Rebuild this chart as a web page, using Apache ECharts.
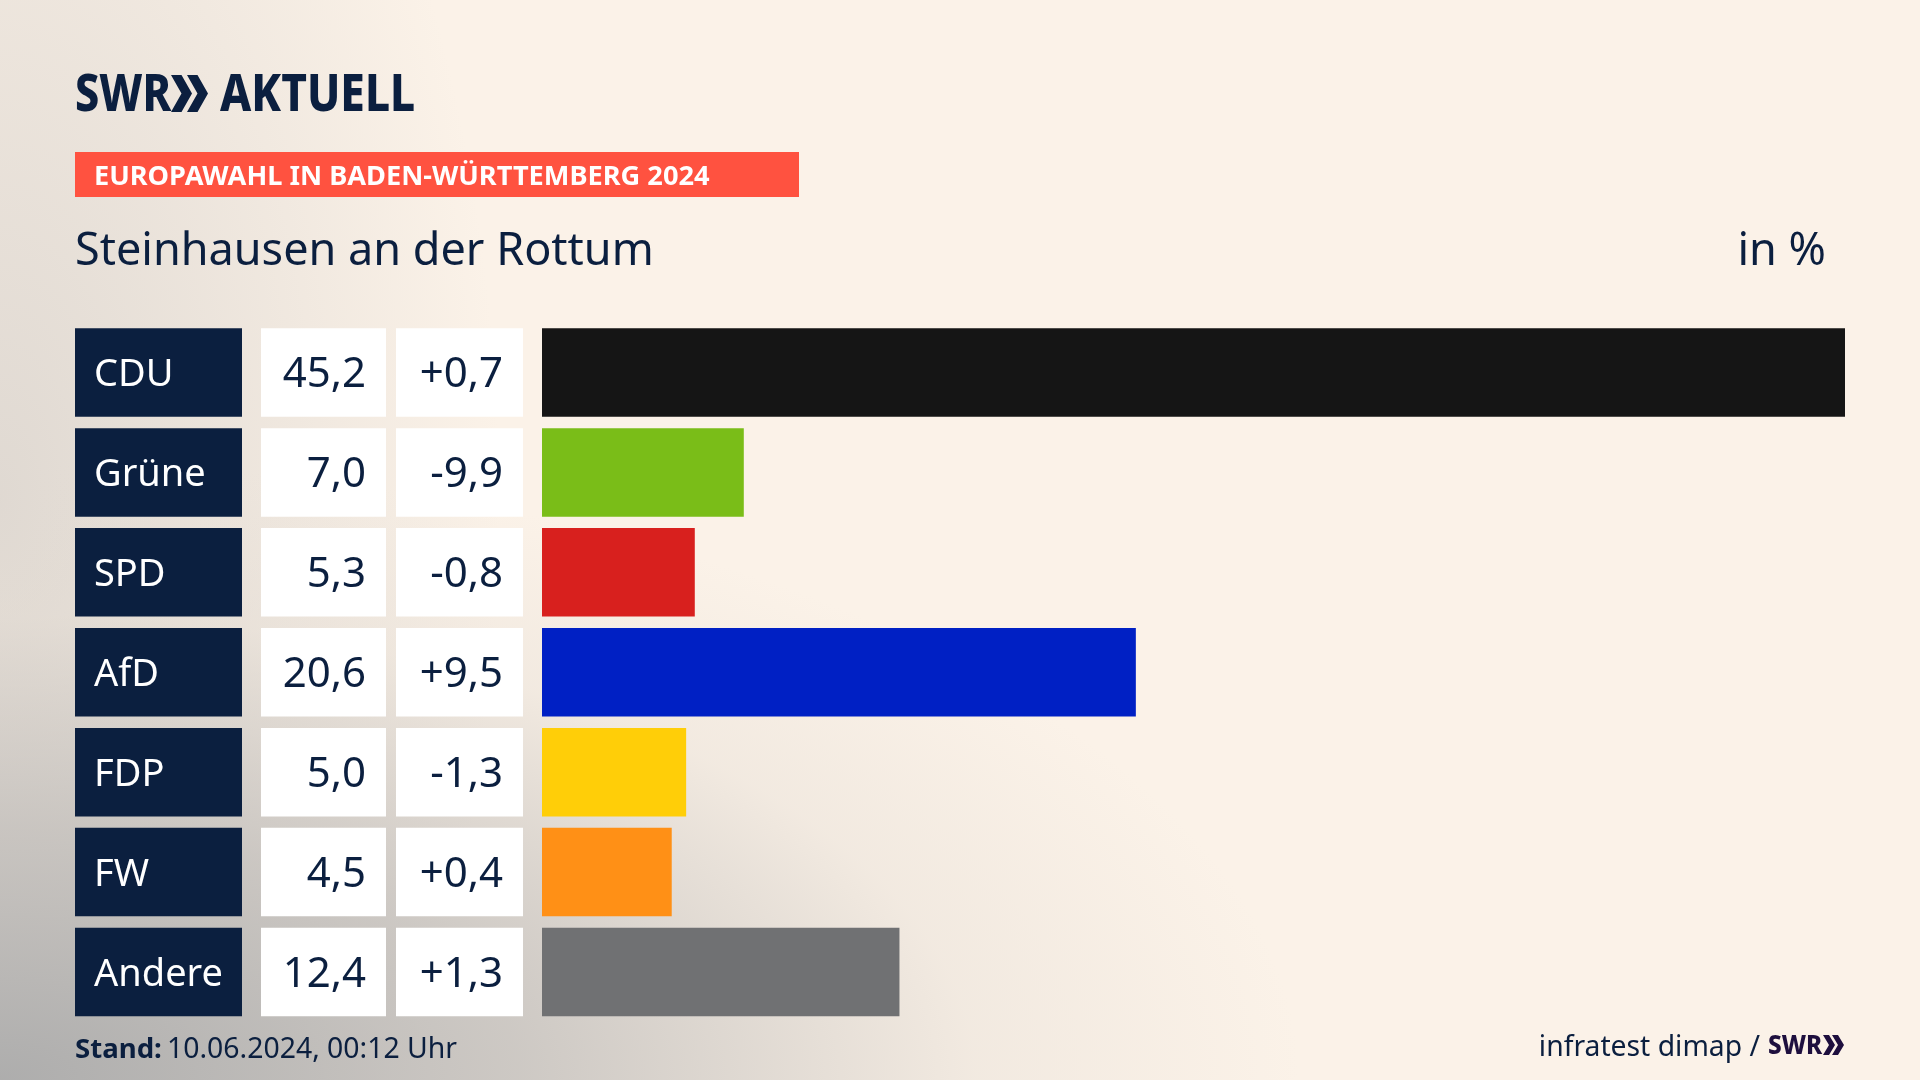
<!DOCTYPE html>
<html><head><meta charset="utf-8">
<style>
html,body{margin:0;padding:0;width:1920px;height:1080px;overflow:hidden;background:#FBF2E8}
#bg{position:absolute;left:0;top:0;width:1920px;height:1080px;background:
radial-gradient(ellipse 1300px 620px at 0px 1080px,rgba(170,170,170,.95) 0%,rgba(190,187,184,.75) 40%,rgba(225,218,210,.35) 75%,rgba(251,242,232,0) 100%),
radial-gradient(ellipse 500px 1000px at 0px 500px,rgba(205,200,195,.6) 0%,rgba(251,242,232,0) 100%),#FBF2E8}
#c{position:absolute;left:0;top:0;width:1920px;height:1080px}
</style>
</head><body><div id="bg"></div><div id="c"></div>
<script src="https://cdn.jsdelivr.net/npm/echarts@6/dist/echarts.min.js"></script>
<script>
const parties = ['CDU','Grüne','SPD','AfD','FDP','FW','Andere'];
const shares = [45.2,7.0,5.3,20.6,5.0,4.5,12.4];
const shareLabels = ['45,2','7,0','5,3','20,6','5,0','4,5','12,4'];
const diffLabels = ['+0,7','-9,9','-0,8','+9,5','-1,3','+0,4','+1,3'];
const colors = ['#151515','#7ABD18','#D8201E','#0020C4','#FFCE08','#FF9016','#707173'];

const NAVY='#0B1F3F', F='"Noto Sans"';
function labelAxis(data, offset, fontSize, color, align, box){
  return {type:'category',inverse:true,position:'left',offset:offset,data:data,
    axisLine:{show:false},axisTick:{show:false},splitLine:{show:false},
    axisLabel:Object.assign({show:true,interval:0,margin:0,align:align,height:88.5,
      formatter:v=>'{t|'+v+'}',
      rich:{t:{fontFamily:F,fontSize:fontSize,color:color,align:align,verticalAlign:'bottom',height:82.5,lineHeight:88.5}}},box)};
}
function chevrons(x,y,h,w,gap,fill){
  const out=[];
  for(let i=0;i<2;i++){
    const x0=x+i*gap, t=w*0.5;
    out.push({type:'polygon',shape:{points:[[x0,y],[x0+t,y],[x0+w,y+h/2],[x0+t,y+h],[x0,y+h],[x0+w-t,y+h/2]]},style:{fill:fill}});
  }
  return out;
}
const chart = echarts.init(document.getElementById('c'),null,{renderer:'canvas',width:1920,height:1080});
chart.setOption({
  animation:false,
  backgroundColor:'transparent',
  grid:{left:542,top:322.5,width:1303,height:699.5,containLabel:false},
  xAxis:{type:'value',min:0,max:45.2,show:false},
  yAxis:[
    labelAxis(parties,467,38,'#FFFFFF','left',{width:129,backgroundColor:NAVY,padding:[0,19,0,19]}),
    labelAxis(shareLabels,156,42,NAVY,'right',{width:105,backgroundColor:'#FFFFFF',padding:[0,20,0,0]}),
    labelAxis(diffLabels,19,42,NAVY,'right',{width:107,backgroundColor:'#FFFFFF',padding:[0,20,0,0]})
  ],
  series:[{type:'bar',yAxisIndex:0,barWidth:88.5,silent:true,
    data:shares.map((v,i)=>({value:v,itemStyle:{color:colors[i]}}))}],
  graphic:[
    {type:'text',x:75,y:70,scaleX:0.83,style:{text:'SWR',font:'800 52px "Noto Sans"',fill:NAVY}},
    ...chevrons(171,75,37,21,16,NAVY),
    {type:'text',x:220,y:70,scaleX:0.85,style:{text:'AKTUELL',font:'800 52px "Noto Sans"',fill:NAVY}},
    {type:'rect',shape:{x:75,y:152,width:724,height:45},style:{fill:'#FF5240'}},
    {type:'text',left:94,top:164,style:{text:'EUROPAWAHL IN BADEN-WÜRTTEMBERG 2024',font:'700 27.2px "Noto Sans"',fill:'#FFFFFF'}},
    {type:'text',left:75,top:230,style:{text:'Steinhausen an der Rottum',font:'45px "Noto Sans"',fill:NAVY}},
    {type:'text',right:94,top:230,style:{text:'in %',font:'45px "Noto Sans"',fill:NAVY}},
    {type:'text',left:75,top:1036,style:{text:'Stand:',font:'700 27.6px "Noto Sans"',fill:NAVY}},
    {type:'text',left:167,top:1036,style:{text:'10.06.2024, 00:12 Uhr',font:'28.4px "Noto Sans"',fill:NAVY}},
    {type:'text',right:160,top:1034,style:{text:'infratest dimap /',font:'28.3px "Noto Sans"',fill:NAVY}},
    {type:'text',x:1768,y:1033,scaleX:0.9,style:{text:'SWR',font:'800 27px "Noto Sans"',fill:'#1E0F3E'}},
    ...chevrons(1823,1035,20,12,9,'#1E0F3E')
  ]
});
</script></body></html>
